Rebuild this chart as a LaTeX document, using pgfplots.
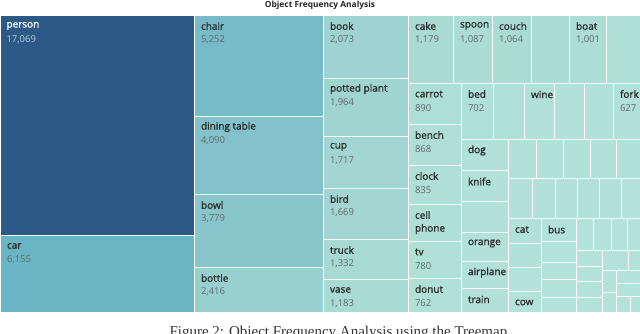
\documentclass[border=0pt]{standalone}
\usepackage{fontspec}
\setmainfont{Open Sans}
\newfontfamily\namefont{Open Sans}[FakeBold=1.2]
\newfontfamily\capfont{Liberation Serif}
\usepackage{pgfplots}
\pgfplotsset{compat=1.18}
\definecolor{nametxt}{HTML}{2B2B2B}
\definecolor{valtxt}{HTML}{5E686C}
\definecolor{persval}{HTML}{B9CCDF}

% label of one cell: x0, y0 (top left corner), name, value
\newcommand{\lab}[4]{%
  \node[anchor=west, text=nametxt, font=\namefont, xshift=3.5pt, yshift=-11pt] at (axis cs:#1,#2) {#3};
  \node[anchor=west, text=valtxt, xshift=3.5pt, yshift=-25pt] at (axis cs:#1,#2) {#4};}
% name only
\newcommand{\nam}[3]{%
  \node[anchor=west, text=nametxt, font=\namefont, xshift=3.5pt, yshift=-11.5pt] at (axis cs:#1,#2) {#3};}

\begin{document}
\begin{tikzpicture}
\useasboundingbox (0,0) rectangle (640pt,333pt);
\begin{axis}[
    scale only axis, width=640pt, height=333pt,
    xmin=0, xmax=640, ymin=0, ymax=333, y dir=reverse,
    hide axis, clip=true,
    colormap={treemap}{
        rgb255(0)=(179,227,216) rgb255(650)=(177,225,215)
        rgb255(1000)=(173,222,213) rgb255(1200)=(168,219,211)
        rgb255(1700)=(163,214,210) rgb255(2100)=(158,211,209)
        rgb255(2400)=(152,208,208) rgb255(3800)=(136,198,204)
        rgb255(4100)=(131,194,202) rgb255(5250)=(118,187,199)
        rgb255(6155)=(105,181,196) rgb255(17069)=(44,89,134)},
    point meta min=0, point meta max=17069,
    font=\fontsize{9.5}{11}\selectfont,
]
% cells: corners in px of the layout, meta = object count
\addplot[patch, patch type=rectangle, shader=faceted, faceted color=white,
    line width=1pt, point meta=explicit] coordinates {
(0,15)[17069] (194,15)[17069] (194,235)[17069] (0,235)[17069]
(0,235)[6155] (194,235)[6155] (194,312)[6155] (0,312)[6155]
(194,15)[5252] (323,15)[5252] (323,116)[5252] (194,116)[5252]
(194,116)[4090] (323,116)[4090] (323,194)[4090] (194,194)[4090]
(194,194)[3779] (323,194)[3779] (323,267)[3779] (194,267)[3779]
(194,267)[2416] (323,267)[2416] (323,312)[2416] (194,312)[2416]
(323,15)[2073] (408,15)[2073] (408,78)[2073] (323,78)[2073]
(323,78)[1964] (408,78)[1964] (408,136)[1964] (323,136)[1964]
(323,136)[1717] (408,136)[1717] (408,188)[1717] (323,188)[1717]
(323,188)[1669] (408,188)[1669] (408,239)[1669] (323,239)[1669]
(323,239)[1332] (408,239)[1332] (408,279)[1332] (323,279)[1332]
(323,279)[1183] (408,279)[1183] (408,312)[1183] (323,312)[1183]
(408,15)[1179] (453,15)[1179] (453,83)[1179] (408,83)[1179]
(453,15)[1087] (492,15)[1087] (492,83)[1087] (453,83)[1087]
(492,15)[1064] (531,15)[1064] (531,83)[1064] (492,83)[1064]
(531,15)[1040] (569,15)[1040] (569,83)[1040] (531,83)[1040]
(569,15)[1001] (606,15)[1001] (606,83)[1001] (569,83)[1001]
(606,15)[920] (640,15)[920] (640,83)[920] (606,83)[920]
(408,83)[890] (461,83)[890] (461,124)[890] (408,124)[890]
(408,124)[868] (461,124)[868] (461,165)[868] (408,165)[868]
(408,165)[835] (461,165)[835] (461,204)[835] (408,204)[835]
(408,204)[800] (461,204)[800] (461,241)[800] (408,241)[800]
(408,241)[780] (461,241)[780] (461,278)[780] (408,278)[780]
(408,278)[762] (461,278)[762] (461,312)[762] (408,312)[762]
(461,83)[702] (493,83)[702] (493,139)[702] (461,139)[702]
(493,83)[700] (524,83)[700] (524,139)[700] (493,139)[700]
(524,83)[690] (554,83)[690] (554,139)[690] (524,139)[690]
(554,83)[680] (584,83)[680] (584,139)[680] (554,139)[680]
(584,83)[660] (613,83)[660] (613,139)[660] (584,139)[660]
(613,83)[627] (640,83)[627] (640,139)[627] (613,139)[627]
(461,139)[600] (508,139)[600] (508,170)[600] (461,170)[600]
(461,170)[590] (508,170)[590] (508,201)[590] (461,201)[590]
(461,201)[585] (508,201)[585] (508,232)[585] (461,232)[585]
(461,232)[560] (508,232)[560] (508,261)[560] (461,261)[560]
(461,261)[540] (508,261)[540] (508,288)[540] (461,288)[540]
(461,288)[500] (508,288)[500] (508,312)[500] (461,312)[500]
(508,139)[450] (536,139)[450] (536,178)[450] (508,178)[450]
(536,139)[440] (563,139)[440] (563,178)[440] (536,178)[440]
(563,139)[430] (590,139)[430] (590,178)[430] (563,178)[430]
(590,139)[420] (616,139)[420] (616,178)[420] (590,178)[420]
(616,139)[400] (640,139)[400] (640,178)[400] (616,178)[400]
(508,178)[390] (532,178)[390] (532,218)[390] (508,218)[390]
(532,178)[380] (555,178)[380] (555,218)[380] (532,218)[380]
(555,178)[370] (577,178)[370] (577,218)[370] (555,218)[370]
(577,178)[360] (599,178)[360] (599,218)[360] (577,218)[360]
(599,178)[350] (621,178)[350] (621,218)[350] (599,218)[350]
(621,178)[310] (640,178)[310] (640,218)[310] (621,218)[310]
(508,218)[330] (541,218)[330] (541,243)[330] (508,243)[330]
(508,243)[320] (541,243)[320] (541,267)[320] (508,267)[320]
(508,267)[310] (541,267)[310] (541,291)[310] (508,291)[310]
(508,291)[300] (541,291)[300] (541,312)[300] (508,312)[300]
(541,218)[300] (576,218)[300] (576,241)[300] (541,241)[300]
(541,241)[290] (576,241)[290] (576,262)[290] (541,262)[290]
(541,262)[280] (576,262)[280] (576,279)[280] (541,279)[280]
(541,279)[270] (576,279)[270] (576,297)[270] (541,297)[270]
(541,297)[250] (576,297)[250] (576,312)[250] (541,312)[250]
(576,218)[240] (593,218)[240] (593,250)[240] (576,250)[240]
(593,218)[230] (611,218)[230] (611,250)[230] (593,250)[230]
(611,218)[220] (627,218)[220] (627,250)[220] (611,250)[220]
(627,218)[200] (640,218)[200] (640,250)[200] (627,250)[200]
(576,250)[190] (602,250)[190] (602,266)[190] (576,266)[190]
(576,266)[180] (602,266)[180] (602,281)[180] (576,281)[180]
(576,281)[175] (602,281)[175] (602,297)[175] (576,297)[175]
(576,297)[170] (602,297)[170] (602,312)[170] (576,312)[170]
(602,250)[160] (628,250)[160] (628,270)[160] (602,270)[160]
(628,250)[110] (640,250)[110] (640,270)[110] (628,270)[110]
(602,270)[140] (616,270)[140] (616,292)[140] (602,292)[140]
(616,270)[120] (640,270)[120] (640,283)[120] (616,283)[120]
(616,283)[100] (640,283)[100] (640,296)[100] (616,296)[100]
(602,292)[90] (616,292)[90] (616,312)[90] (602,312)[90]
(616,296)[70] (630,296)[70] (630,312)[70] (616,312)[70]
(630,296)[50] (640,296)[50] (640,312)[50] (630,312)[50]
};

% title
\node[font=\bfseries\fontsize{8.4}{10}\selectfont, text=black!85] at (axis cs:320,5.5) {Object Frequency Analysis};

% labels
\node[anchor=west, text=white, font=\namefont, xshift=3pt, yshift=-11pt] at (axis cs:0,15) {person};
\node[anchor=west, text=persval, xshift=3pt, yshift=-25pt] at (axis cs:0,15) {17,069};
\lab{0}{235}{car}{6,155}
\lab{194}{15}{chair}{5,252}
\lab{194}{116}{dining table}{4,090}
\lab{194}{194}{bowl}{3,779}
\lab{194}{267}{bottle}{2,416}
\lab{323}{15}{book}{2,073}
\lab{323}{78}{potted plant}{1,964}
\lab{323}{136}{cup}{1,717}
\lab{323}{188}{bird}{1,669}
\lab{323}{239}{truck}{1,332}
\lab{323}{279}{vase}{1,183}
\lab{408}{15}{cake}{1,179}
\lab{453}{15}{spoon}{1,087}
\lab{492}{15}{couch}{1,064}
\lab{569}{15}{boat}{1,001}
\lab{408}{83}{carrot}{890}
\lab{408}{124}{bench}{868}
\lab{408}{165}{clock}{835}
\lab{408}{241}{tv}{780}
\lab{408}{278}{donut}{762}
\lab{461}{83}{bed}{702}
\lab{613}{83}{fork}{627}
\node[anchor=west, text=nametxt, font=\namefont, xshift=3.5pt, yshift=-11pt] at (axis cs:408,204) {cell};
\node[anchor=west, text=nametxt, font=\namefont, xshift=3.5pt, yshift=-25pt] at (axis cs:408,204) {phone};
\nam{524}{83}{wine}
\nam{461}{139}{dog}
\nam{461}{170}{knife}
\nam{461}{232}{orange}
\nam{461}{261}{airplane}
\nam{461}{288}{train}
\nam{508}{218}{cat}
\nam{541}{218}{bus}
\nam{508}{291}{cow}

% caption of the paper, cut by the lower edge as in the source
\node[anchor=base west, font=\capfont\fontsize{15}{18}\selectfont, text=black!80] at (axis cs:166,336) {Figure 2: Object Frequency Analysis using the Treemap};
\end{axis}
\end{tikzpicture}
\end{document}
